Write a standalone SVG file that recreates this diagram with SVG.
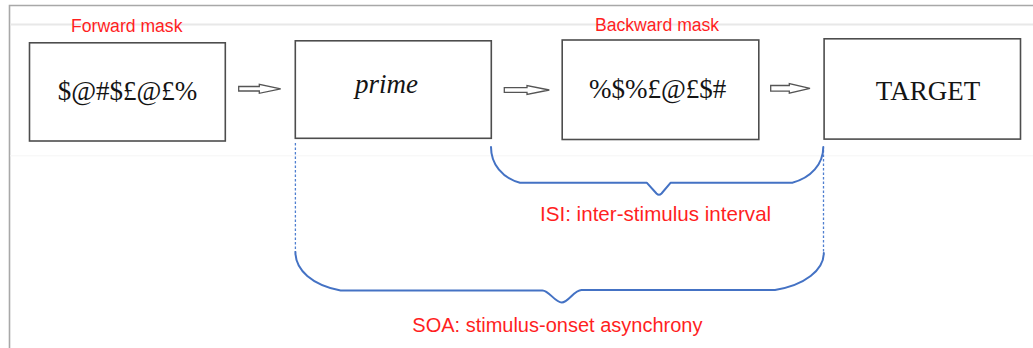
<svg xmlns="http://www.w3.org/2000/svg" width="1033" height="348" viewBox="0 0 1033 348">
<style>
.box{fill:#fff;stroke:#4d4d4d;stroke-width:1.6}
.serif{font-family:"Liberation Serif","Times New Roman",serif;font-size:27px;fill:#141414}
.red{font-family:"Liberation Sans",Arial,sans-serif;fill:#ff1f1f}
.arrow{fill:#fff;stroke:#555;stroke-width:1.3;stroke-linejoin:miter}
.brace{fill:none;stroke:#4472c4;stroke-width:2;stroke-linejoin:round;stroke-linecap:round}
.dash{fill:none;stroke:#4f7fd0;stroke-width:1.3;stroke-dasharray:2.5 2}
</style>
<rect width="1033" height="348" fill="#fff"/>
<path d="M9.5,348 V5.5 H1033" fill="none" stroke="#a8a8a8" stroke-width="1.6"/>
<line x1="10" y1="24.5" x2="1033" y2="24.5" stroke="#e8e8e8" stroke-width="2"/>
<line x1="10" y1="155.8" x2="1033" y2="155.8" stroke="#f6f6f6" stroke-width="1"/>

<text class="red" x="71" y="31.5" font-size="17.6">Forward mask</text>
<text class="red" x="595" y="30.5" font-size="17.6">Backward mask</text>

<g id="forward-mask">
<rect class="box" x="29.5" y="42.8" width="195.8" height="98.2"/>
<text class="serif" x="127.5" y="100" text-anchor="middle">$@#$£@£%</text>
</g>
<g id="prime">
<rect class="box" x="295.3" y="40.8" width="196" height="97.5"/>
<text class="serif" x="386.5" y="92.5" text-anchor="middle" font-style="italic">prime</text>
</g>
<g id="backward-mask">
<rect class="box" x="562.2" y="40" width="196.6" height="99.5"/>
<text class="serif" x="657.6" y="97.5" text-anchor="middle">%$%£@£$#</text>
</g>
<g id="target">
<rect class="box" x="824.1" y="38.8" width="196.4" height="100.3"/>
<text class="serif" x="928" y="99.5" text-anchor="middle">TARGET</text>
</g>

<g id="connectors">
<path class="arrow" d="M238.7,86.5 H259.3 V84.3 L280.7,88.8 L259.3,93.3 V91 H238.7 Z"/>
<path class="arrow" d="M504.3,87.7 H527 V85.5 L549.3,90 L527,94.5 V92.3 H504.3 Z"/>
<path class="arrow" d="M770.7,85.5 H789.3 V83.5 L810,88.3 L789.3,93.2 V91.2 H770.7 Z"/>

<line class="dash" x1="295.4" y1="143" x2="295.4" y2="252"/>
<line class="dash" x1="823.5" y1="150" x2="823.5" y2="253"/>

<g id="isi-brace">
<path class="brace" d="M491,147 C491,164 502,178 520,182.7 L646.7,182.7 L656.5,193.5 Q659,196 661.5,193.5 L670.7,182.7 L792.3,182.7 C811,178 823.3,164 823.3,147"/>
<text class="red" x="540" y="221" font-size="20.6">ISI: inter-stimulus interval</text>
</g>
<g id="soa-brace">
<path class="brace" d="M295.4,252 C295.4,270 312,285 340.6,290.5 L542.5,290.5 C549,290.5 555,302.5 561.8,302.5 C568.5,302.5 574,290 581.5,290 L775,290 C805,285 823.8,270 823.8,253"/>
<text class="red" x="412.3" y="331.5" font-size="20">SOA: stimulus-onset asynchrony</text>
</g>
</g>
</svg>
